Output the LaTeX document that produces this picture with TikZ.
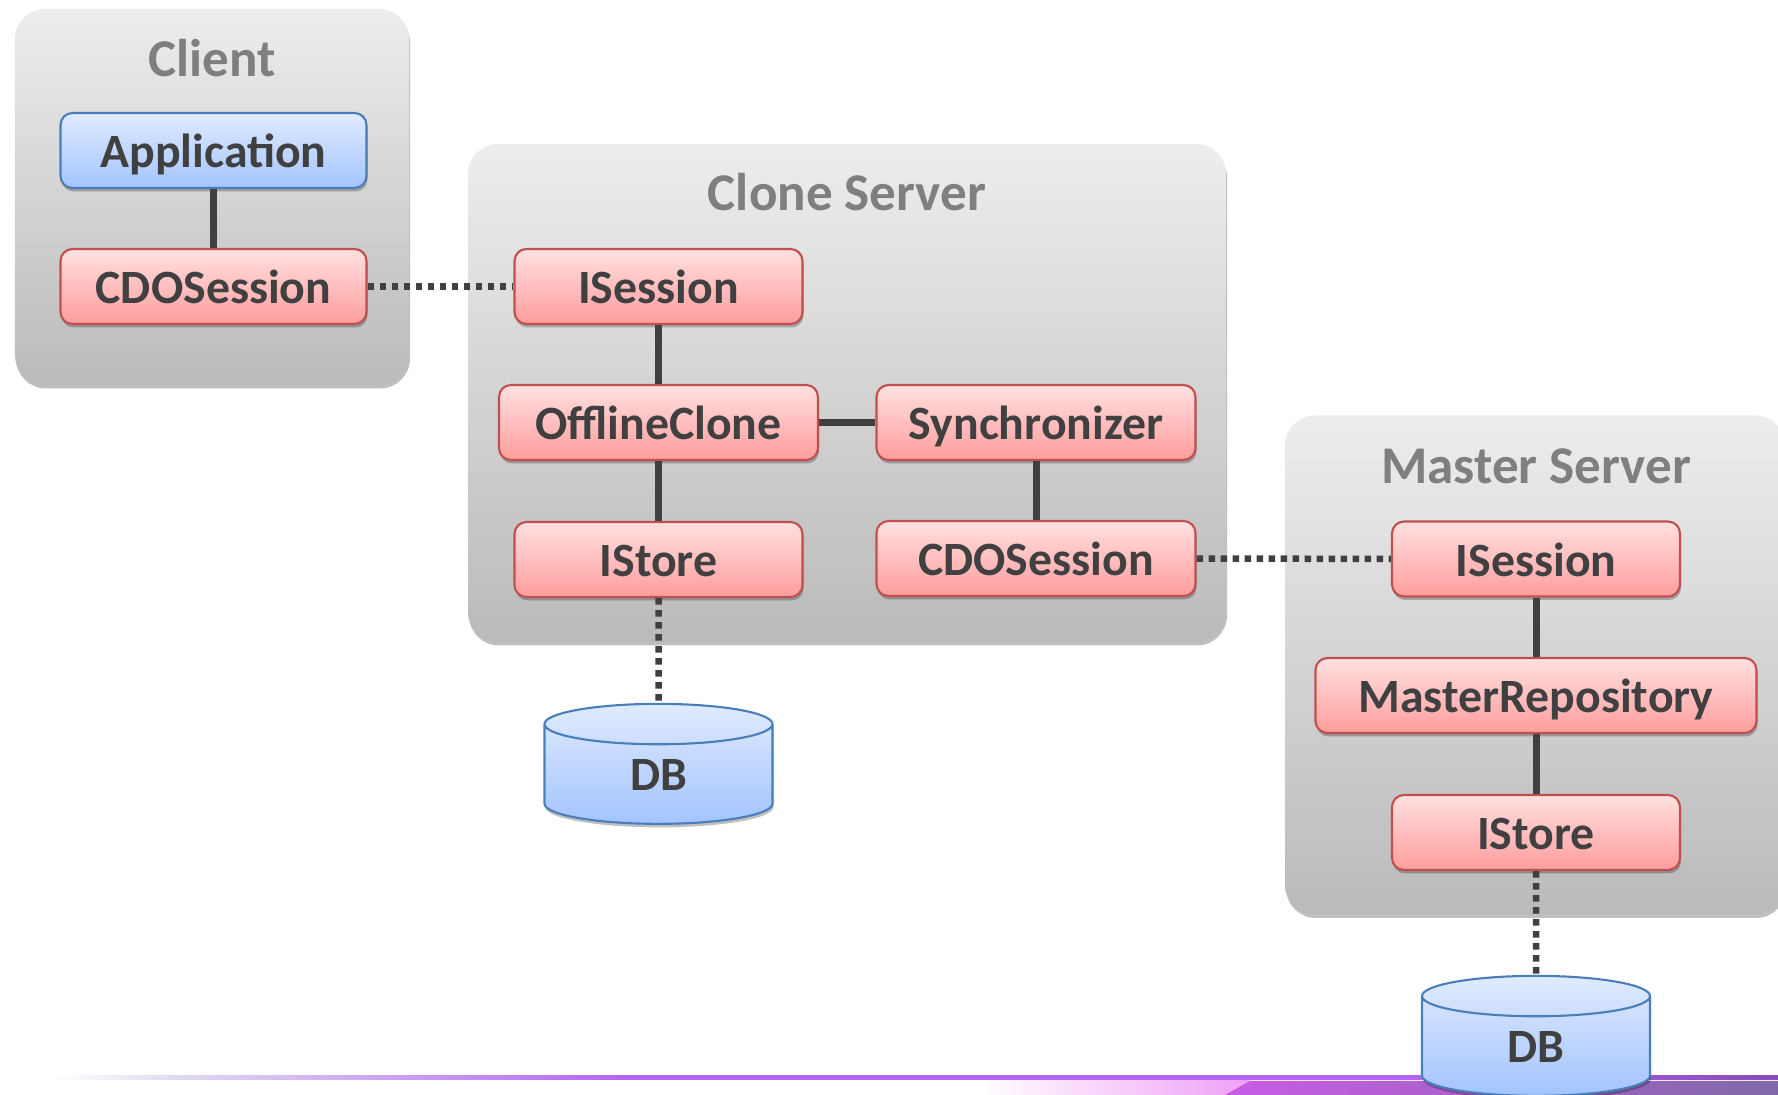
\documentclass[tikz,border=0pt]{standalone}
\usepackage{fontspec}
\setmainfont{Carlito}
\usetikzlibrary{shapes.geometric}
\usetikzlibrary{shadows}
\definecolor{linegray}{HTML}{404040}
\definecolor{titlegray}{HTML}{7F7F7F}
\definecolor{redline}{HTML}{C0504D}
\definecolor{blueline}{HTML}{4A7EBB}
\definecolor{redtop}{HTML}{FFE0E0}
\definecolor{redbottom}{HTML}{FF9D9D}
\definecolor{bluetop}{HTML}{E0EBFF}
\definecolor{bluebottom}{HTML}{A3C4FF}
\definecolor{barpurple}{HTML}{B565F5}
\definecolor{bardark}{HTML}{8A4CB8}
\definecolor{barlavender}{HTML}{E0D8F0}
\definecolor{barpink}{HTML}{EFA0F5}
\definecolor{barmagenta}{HTML}{C95CE6}
\definecolor{bargray}{HTML}{8068A8}
\tikzset{softshadow/.style={drop shadow={shadow xshift=0.01cm, shadow yshift=-0.035cm, opacity=0.25, fill=black}}}
\tikzset{panel/.style={rectangle, rounded corners=0.3cm, minimum height=5cm, top color=black!7, bottom color=black!27, softshadow}}
\tikzset{paneltitle/.style={anchor=base, text=titlegray, font=\fontsize{15.1}{17}\selectfont\bfseries}}
\tikzset{box/.style={rectangle, rounded corners=0.12cm, draw, line width=0.6pt, minimum height=0.75cm, inner sep=0pt,
    text height=0.43cm, text depth=0.08cm, text=linegray, font=\fontsize{13.6}{15}\selectfont\bfseries, softshadow}}
\tikzset{redbox/.style={box, draw=redline, top color=redtop, bottom color=redbottom}}
\tikzset{bluebox/.style={box, draw=blueline, top color=bluetop, bottom color=bluebottom}}
\tikzset{dbbox/.style={cylinder, shape border rotate=90, aspect=0.71, draw=blueline, line width=0.6pt,
    minimum width=2.28cm, minimum height=1.2cm, inner sep=0pt, top color=bluetop, bottom color=bluebottom,
    text height=0.33cm, text=linegray, font=\fontsize{13.6}{15}\selectfont\bfseries, softshadow}}
\tikzset{solidline/.style={linegray, line width=0.07cm}}
\tikzset{dottedline/.style={linegray, line width=0.065cm, dash pattern=on 0.065cm off 0.055cm}}

\begin{document}
\begin{tikzpicture}
    \useasboundingbox (0,0) rectangle (17.78,10.95);

    \shade [left color=white, right color=barlavender] (0.54,0.15) rectangle (1.8,0.19);
    \shade [left color=barlavender, right color=barpurple] (1.8,0.15) rectangle (6.25,0.19);
    \shade [left color=barpurple, right color=barpurple] (6.25,0.15) rectangle (14.2,0.19);
    \shade [left color=barpurple, right color=bardark] (14.2,0.15) rectangle (17.78,0.19);
    \shade [left color=white, right color=barpink] (9.8,0) rectangle (12.5,0.14);
    \shade [left color=barmagenta, right color=bargray] (12.25,0) -- (12.5,0.14) -- (17.78,0.14) -- (17.78,0) -- cycle;

    \node [panel, minimum width=3.94cm, minimum height=3.76cm] (client) at (2.12,8.98) {};
    \node [panel, minimum width=7.58cm, minimum height=4.98cm] (cloneserver) at (8.47,7.02) {};
    \node [panel, minimum width=5cm, minimum height=4.99cm] (masterserver) at (15.35,4.3) {};

    \node [paneltitle] (clienttitle) at (2.12,10.18) {Client};
    \node [paneltitle] (clonetitle) at (8.47,8.84) {Clone Server};
    \node [paneltitle] (mastertitle) at (15.36,6.11) {Master Server};

    \node [bluebox, minimum width=3.06cm] (application) at (2.135,9.445) {Application};
    \node [redbox, minimum width=3.06cm] (clientsession) at (2.135,8.085) {CDOSession};

    \node [redbox, minimum width=2.88cm] (cloneisession) at (6.585,8.085) {ISession};
    \node [redbox, minimum width=3.19cm] (offlineclone) at (6.585,6.725) {OfflineClone};
    \node [redbox, minimum width=3.19cm] (synchronizer) at (10.36,6.725) {Synchronizer};
    \node [redbox, minimum width=2.88cm] (cloneistore) at (6.585,5.355) {IStore};
    \node [redbox, minimum width=3.19cm] (clonesession) at (10.36,5.365) {CDOSession};

    \node [redbox, minimum width=2.88cm] (masterisession) at (15.36,5.36) {ISession};
    \node [redbox, minimum width=4.41cm] (masterrepo) at (15.36,3.995) {MasterRepository};
    \node [redbox, minimum width=2.88cm] (masteristore) at (15.36,2.625) {IStore};

    \node [dbbox] (clonedb) at (6.585,3.205) {DB};
    \node [dbbox] (masterdb) at (15.36,0.485) {DB};

    \draw [solidline] (application) -- (clientsession);
    \draw [solidline] (cloneisession) -- (offlineclone);
    \draw [solidline] (offlineclone) -- (cloneistore);
    \draw [solidline] (offlineclone) -- (synchronizer);
    \draw [solidline] (synchronizer) -- (clonesession);
    \draw [solidline] (masterisession) -- (masterrepo);
    \draw [solidline] (masterrepo) -- (masteristore);

    \draw [dottedline] (clientsession) -- (cloneisession);
    \draw [dottedline] (clonesession) -- (masterisession);
    \draw [dottedline] (cloneistore) -- (clonedb);
    \draw [dottedline] (masteristore) -- (masterdb);
\end{tikzpicture}
\end{document}
